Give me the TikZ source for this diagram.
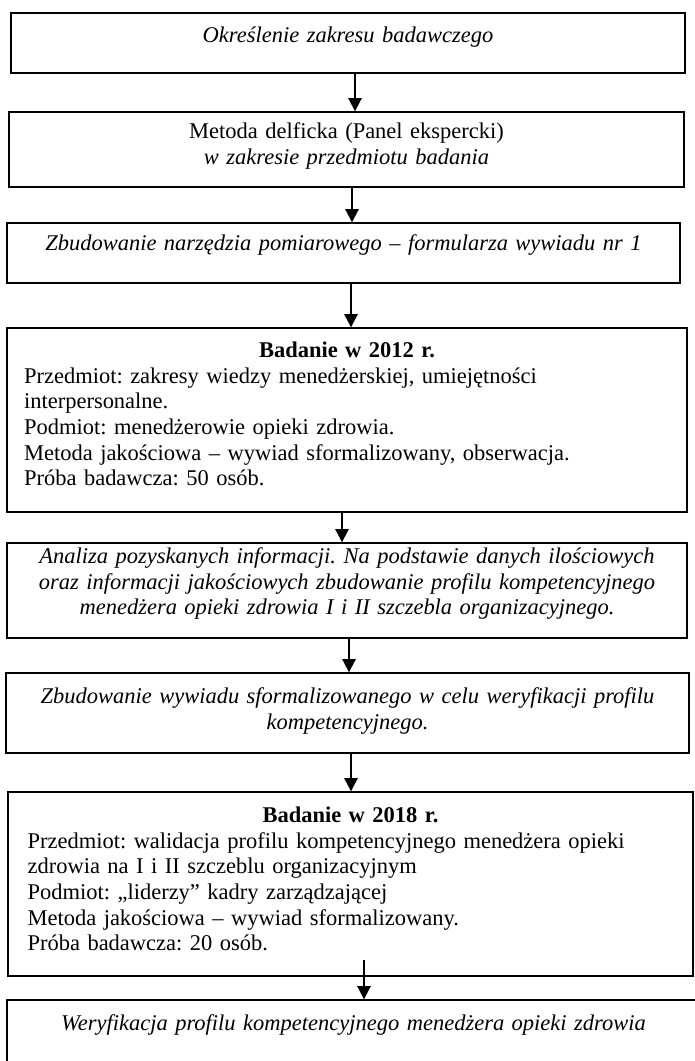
\documentclass[tikz,border=0pt]{standalone}
\usepackage{fontspec}
\setmainfont{Liberation Serif}
\usetikzlibrary{arrows.meta}
\frenchspacing

\begin{document}
\begin{tikzpicture}[x=0.02cm,y=-0.02cm,
  stage/.style={draw,line width=0.8pt,text width=12.92cm,inner xsep=0.1cm,inner ysep=0pt,
    text height=9pt,font=\fontsize{12.8}{14.6}\selectfont},
  flow/.style={-{Triangle[length=7.5pt,width=7.5pt]},line width=1.1pt}]
\useasboundingbox (0,0) rectangle (694,1061);
% stages
\node[stage,align=center,minimum width=13.48cm,minimum height=1.2cm,text depth=10pt] (n1) at (348,43)
  {\textit{Określenie zakresu badawczego}};
\node[stage,align=center,minimum width=13.5cm,minimum height=1.5cm,text depth=21pt] (n2) at (346.5,149.5)
  {Metoda delficka (Panel ekspercki)\\ \textit{w zakresie przedmiotu badania}};
\node[stage,align=center,minimum width=13.46cm,minimum height=1.2cm,text depth=11.8pt] (n3) at (343.5,253)
  {\textit{Zbudowanie narzędzia pomiarowego – formularza wywiadu nr 1}};
\node[stage,align=left,minimum width=13.6cm,minimum height=3.68cm,text depth=80pt] (n4) at (347,420)
  {\makebox[\linewidth]{\textbf{Badanie w 2012 r.}}\\
   Przedmiot: zakresy wiedzy menedżerskiej, umiejętności\\
   interpersonalne.\\
   Podmiot: menedżerowie opieki zdrowia.\\
   Metoda jakościowa – wywiad sformalizowany, obserwacja.\\
   Próba badawcza: 50 osób.};
\node[stage,align=center,minimum width=13.6cm,minimum height=1.9cm,text depth=39.7pt] (n5) at (347,590.5)
  {\textit{Analiza pozyskanych informacji. Na podstawie danych ilościowych}\\
   \textit{oraz informacji jakościowych zbudowanie profilu kompetencyjnego}\\
   \textit{menedżera opieki zdrowia I i II szczebla organizacyjnego.}};
\node[stage,align=center,minimum width=13.66cm,minimum height=1.6cm,text depth=19.8pt] (n6) at (347.5,713)
  {\textit{Zbudowanie wywiadu sformalizowanego w celu weryfikacji profilu}\\
   \textit{kompetencyjnego.}};
\node[stage,align=left,minimum width=13.7cm,minimum height=3.68cm,text depth=79pt] (n7) at (350.5,884)
  {\makebox[\linewidth]{\textbf{Badanie w 2018 r.}}\\
   Przedmiot: walidacja profilu kompetencyjnego menedżera opieki\\
   zdrowia na I i II szczeblu organizacyjnym\\
   Podmiot: „liderzy” kadry zarządzającej\\
   Metoda jakościowa – wywiad sformalizowany.\\
   Próba badawcza: 20 osób.};
\node[stage,align=center,minimum width=13.86cm,minimum height=1.8cm,text depth=25.5pt] (n8) at (353.5,1045)
  {\textit{Weryfikacja profilu kompetencyjnego menedżera opieki zdrowia}};
% arrows
\draw[flow] (n1.south -| 355,0) -- (n2.north -| 355,0);
\draw[flow] (n2.south -| 352,0) -- (n3.north -| 352,0);
\draw[flow] (n3.south -| 351,0) -- (n4.north -| 351,0);
\draw[flow] (n4.south -| 342,0) -- (n5.north -| 342,0);
\draw[flow] (n5.south -| 349,0) -- (n6.north -| 349,0);
\draw[flow] (n6.south -| 351,0) -- (n7.north -| 351,0);
\coordinate (a7) at (364,960);
\draw[flow] (a7) -- (n8.north -| a7);
\end{tikzpicture}
\end{document}
